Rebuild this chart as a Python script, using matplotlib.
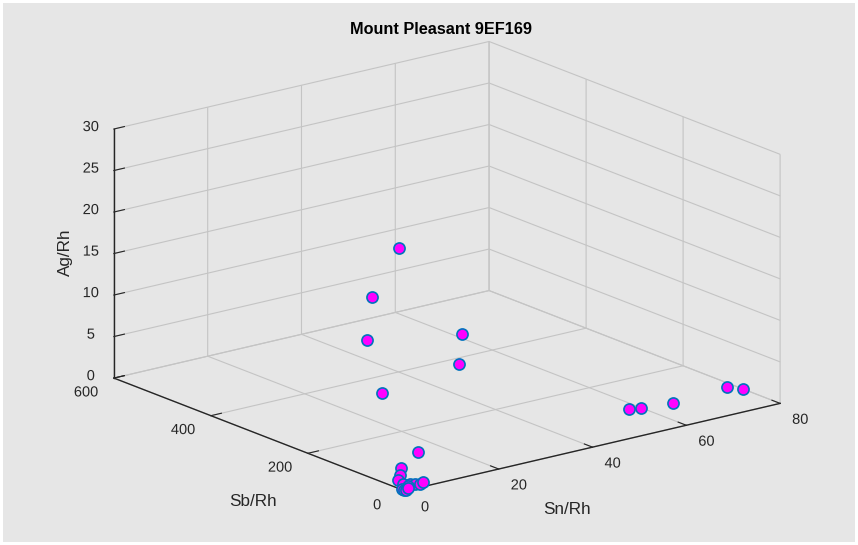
import matplotlib
matplotlib.use("Agg")
import matplotlib.pyplot as plt
from matplotlib import patheffects

plt.rcParams["font.family"] = ["Liberation Sans", "DejaVu Sans"]

title = "Mount Pleasant 9EF169"
x_label, y_label, z_label = "Sn/Rh", "Sb/Rh", "Ag/Rh"
x_ticks = [0, 20, 40, 60, 80]
y_ticks = [0, 200, 400, 600]
z_ticks = [0, 5, 10, 15, 20, 25, 30]

# element ratios per sample
sn = [25.5, 25.2, 23.8, 44.3, 39.2, 25.0, 12.2,
      1.7, 0.6, 1.4, 1.3, 2.2, 3.2, 3.8, 4.6, 1.8, 0.1, 0.1, 0.5, 1.0,
      56.5, 58.5, 64.5, 77.1, 78.5]
sb = [258, 311, 309, 310, 268, 288, 90,
      24, 16, 28, 16, 10.5, 9.5, 5.6, 6.8, 11, 6, 3, 2, 4,
      84, 78, 70, 82, 63]
ag = [20, 13, 8, 6, 4, 2, 1,
      2, 1.5, 0.5, 0.3, 0.3, 0.2, 0.2, 0.3, 0.1, 0.1, 0.0, 0.05, 0.1,
      0.5, 0.5, 0.5, 0.5, 0.5]

bg = "#e6e6e6"
ink = "#262626"

fig = plt.figure(figsize=(8.58, 5.45), dpi=100, facecolor=bg)
fig.patch.set_edgecolor("white")
fig.patch.set_linewidth(4)

ax = fig.add_axes([0.013, 0.034, 1.0, 0.93], projection="3d")
ax.set_facecolor((0, 0, 0, 0))
ax.set_proj_type("ortho")
ax.view_init(elev=17.5, azim=-127.8)
ax.set_box_aspect((1, 1, 0.55), zoom=1.38)

for axis in (ax.xaxis, ax.yaxis, ax.zaxis):
    axis.set_pane_color((0, 0, 0, 0))
    axis.pane.set_edgecolor((0, 0, 0, 0))
    axis.line.set_color(ink)
    axis.line.set_linewidth(1.0)
    axis._axinfo["grid"].update(color="#c4c4c4", linewidth=0.8)
    axis._axinfo["tick"].update(inward_factor=0.0, outward_factor=0.35)

# the box is drawn larger than the square axes area, so don't clip markers
ax.plot(sn, sb, ag, linestyle="none", marker="o", markersize=8,
        markerfacecolor="#ff00ff", markeredgecolor="#0072bd",
        markeredgewidth=1.2, clip_on=False)

ax.set_xlim(0, 80)
ax.set_ylim(0, 600)
ax.set_zlim(0, 30)
ax.set_xticks(x_ticks)
ax.set_yticks(y_ticks)
ax.set_zticks(z_ticks)
ax.tick_params(labelsize=10.5, colors=ink)
ax.tick_params(axis="x", pad=-2)
ax.tick_params(axis="z", pad=-1)


def nudge_tick_labels(axis, dx_px, dy_px):
    """Render an axis' tick labels shifted by a fixed pixel offset."""
    effect = patheffects.SimplePatchShadow(
        offset=(dx_px * 0.72, dy_px * 0.72), shadow_rgbFace=ink,
        alpha=1.0, rho=1.0)
    for tick in axis.get_major_ticks():
        tick.label1.set_path_effects([effect])


nudge_tick_labels(ax.xaxis, 11, 2)
nudge_tick_labels(ax.yaxis, -5, 13)
nudge_tick_labels(ax.zaxis, 1.5, 8)

fig.text(65 / 858, 1 - 252 / 545, z_label, rotation=90, ha="center",
         va="center", fontsize=12.3, color=ink)
fig.text(252.5 / 858, 1 - 502 / 545, y_label, ha="center", va="center",
         fontsize=12.3, color=ink)
fig.text(566.5 / 858, 1 - 510 / 545, x_label, ha="center", va="center",
         fontsize=12.3, color=ink)
fig.text(441 / 858, 1 - 30 / 545, title, ha="center", va="center",
         fontsize=11.7, fontweight="bold", color="black")

fig.savefig("out.png", dpi=100, facecolor=bg, edgecolor="white")
